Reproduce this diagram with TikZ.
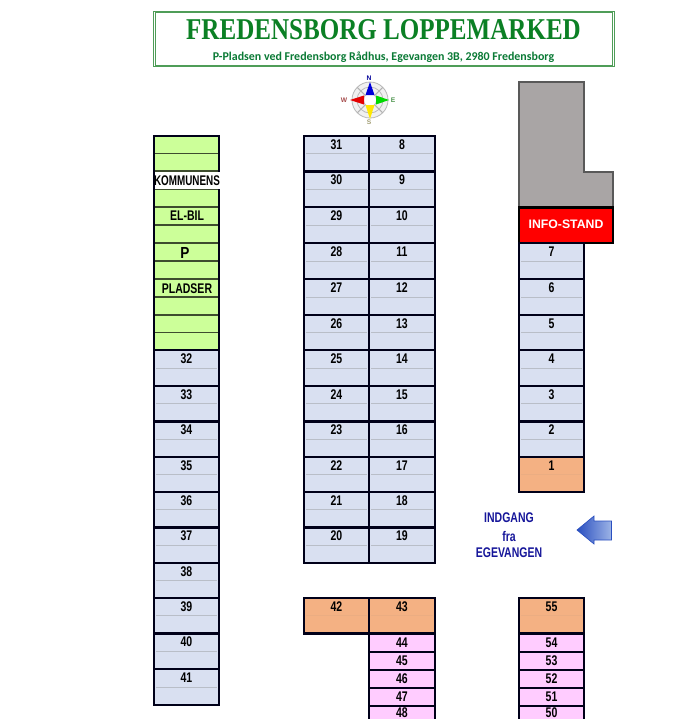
\documentclass[tikz,border=0pt]{standalone}
\usepackage{fontspec}
\usepackage{graphicx}
\setmainfont{Liberation Sans}
\newfontfamily\titlefont{Liberation Serif}
\newfontfamily\subfont{Carlito}
\definecolor{bluecell}{HTML}{D9E0F1}
\definecolor{greencell}{HTML}{CCFF99}
\definecolor{orangecell}{HTML}{F4B183}
\definecolor{pinkcell}{HTML}{FFCCFF}
\definecolor{midline}{HTML}{B9BEC8}
\definecolor{orangeline}{HTML}{EBAD82}
\definecolor{framegreen}{HTML}{4F9D58}
\definecolor{titlegreen}{HTML}{0B8024}
\definecolor{subgreen}{HTML}{0A7A35}
\definecolor{navytext}{HTML}{16169A}
\definecolor{stonegray}{HTML}{A9A5A5}
\definecolor{arrowdark}{HTML}{2A4FC0}
\definecolor{arrowlight}{HTML}{9DB4E6}
\newcommand{\narrowtxt}[1]{\scalebox{.75}[1]{\fontsize{10.5pt}{12pt}\selectfont\bfseries #1}}
\tikzset{
  gridline/.style={draw=black!90!blue,line width=1.6pt},
  thinline/.style={draw=midline,line width=.7pt},
  lab/.style={inner sep=0pt,text=black},
  entry/.style={inner sep=0pt,text=navytext},
  compassring/.style={draw=black!28,line width=.6pt},
  compasslabel/.style={inner sep=0pt,font=\bfseries\fontsize{5pt}{5pt}\selectfont},
}
% #1 x left, #2 x right, #3 y top, #4 y bottom, #5 fill, #6 label, #7 name
\newcommand{\tallcell}[7]{%
  \fill[#5] (#1,#3) rectangle (#2,#4);
  \draw[thinline] (#1+2,{(#3+#4)/2}) -- (#2-2,{(#3+#4)/2});
  \draw[gridline] (#1,#3) rectangle (#2,#4);
  \node[lab] (#7) at ({(#1+#2)/2},#3+8.5) {\narrowtxt{#6}};
}
\newcommand{\orangecellbox}[7]{%
  \fill[#5] (#1,#3) rectangle (#2,#4);
  \draw[orangeline,line width=.7pt] (#1+2,{(#3+#4)/2}) -- (#2-2,{(#3+#4)/2});
  \draw[gridline] (#1,#3) rectangle (#2,#4);
  \node[lab] (#7) at ({(#1+#2)/2},#3+8.5) {\narrowtxt{#6}};
}
\newcommand{\shortcell}[7]{%
  \fill[#5] (#1,#3) rectangle (#2,#4);
  \draw[gridline] (#1,#3) rectangle (#2,#4);
  \node[lab] (#7) at ({(#1+#2)/2},{(#3+#4)/2}) {\narrowtxt{#6}};
}
\begin{document}
\begin{tikzpicture}[x=.75pt,y=-.75pt]
\useasboundingbox (0,0) rectangle (680,719);
\begin{scope}
\clip (0,0) rectangle (680,719);
\fill[white] (0,0) rectangle (680,719);
% title frame
\draw[framegreen,line width=.75pt] (153.5,11.5) rectangle (614,66.5);
\draw[framegreen,line width=.5pt] (155.5,12.5) rectangle (612.5,65);
\node[inner sep=0pt,text=titlegreen] (title) at (383.5,29.5) {\resizebox{296pt}{15pt}{\titlefont\bfseries FREDENSBORG LOPPEMARKED}};
\node[inner sep=0pt,text=subgreen] (subtitle) at (383.5,57.5) {\resizebox{256pt}{!}{\subfont\bfseries P-Pladsen ved Fredensborg Rådhus, Egevangen 3B, 2980 Fredensborg}};
% compass
\begin{scope}[shift={(370,100)}]
  \draw[compassring,fill=black!6] (0,0) circle (18);
  \draw[compassring] (0,0) circle (13);
  \foreach \a in {45,135,225,315}
    \draw[black!30,line width=.8pt] (0,0) -- (\a:18);
  \fill[white] (0,0) circle (6.5);
  \draw[black!30,line width=.4pt] (0,0) circle (6.5);
  \fill[blue!85!black] (-4.5,-5) -- (0,-18) -- (4.5,-5) -- cycle;
  \fill[red!90!black] (-6,-4.5) -- (-20,0) -- (-6,4.5) -- cycle;
  \fill[green!85!black] (6,-4.5) -- (19,0) -- (6,4.5) -- cycle;
  \fill[yellow!90!orange] (-4.5,5) -- (0,19) -- (4.5,5) -- cycle;
  \node[compasslabel,text=blue!60!black] (compassN) at (-1,-22) {N};
  \node[compasslabel,text=red!50!black!70] (compassW) at (-26,0) {W};
  \node[compasslabel,text=green!40!black!70] (compassE) at (23,0) {E};
  \node[compasslabel,text=yellow!40!black!70] (compassS) at (-1,22) {S};
\end{scope}
% left column, green part
\fill[greencell] (154,136) rectangle (219,350);
\foreach \yy in {153.5,171,189,207,225,243,261,279,297,315,332.5}
  \draw[black!70!greencell,line width=1pt] (154,\yy) -- (219,\yy);
\draw[gridline] (154,350) |- (219,136) -- (219,350) -- cycle;
\fill[white] (155,172) rectangle (221,188.5);
\node[lab] (kommunens) at (187,181) {\scalebox{.94}[1]{\narrowtxt{KOMMUNENS}}};
\node[lab] (elbil) at (187,216) {\narrowtxt{EL-BIL}};
\node[lab] (parking) at (185,253) {\scalebox{.85}[1]{\fontsize{12pt}{13pt}\selectfont\bfseries P}};
\node[lab] (pladser) at (187,289) {\narrowtxt{PLADSER}};
% left column, blue part
\tallcell{154}{219}{350}{386}{bluecell}{32}{c32}
\tallcell{154}{219}{386}{421.5}{bluecell}{33}{c33}
\tallcell{154}{219}{421.5}{457}{bluecell}{34}{c34}
\tallcell{154}{219}{457}{492}{bluecell}{35}{c35}
\tallcell{154}{219}{492}{527.5}{bluecell}{36}{c36}
\tallcell{154}{219}{527.5}{563}{bluecell}{37}{c37}
\tallcell{154}{219}{563}{598}{bluecell}{38}{c38}
\tallcell{154}{219}{598}{633.5}{bluecell}{39}{c39}
\tallcell{154}{219}{633.5}{669}{bluecell}{40}{c40}
\tallcell{154}{219}{669}{705}{bluecell}{41}{c41}
% middle block
\tallcell{304}{369}{136}{171.5}{bluecell}{31}{c31}
\tallcell{369}{435}{136}{171.5}{bluecell}{8}{c8}
\tallcell{304}{369}{171.5}{207}{bluecell}{30}{c30}
\tallcell{369}{435}{171.5}{207}{bluecell}{9}{c9}
\tallcell{304}{369}{207}{243}{bluecell}{29}{c29}
\tallcell{369}{435}{207}{243}{bluecell}{10}{c10}
\tallcell{304}{369}{243}{279}{bluecell}{28}{c28}
\tallcell{369}{435}{243}{279}{bluecell}{11}{c11}
\tallcell{304}{369}{279}{315}{bluecell}{27}{c27}
\tallcell{369}{435}{279}{315}{bluecell}{12}{c12}
\tallcell{304}{369}{315}{350}{bluecell}{26}{c26}
\tallcell{369}{435}{315}{350}{bluecell}{13}{c13}
\tallcell{304}{369}{350}{386}{bluecell}{25}{c25}
\tallcell{369}{435}{350}{386}{bluecell}{14}{c14}
\tallcell{304}{369}{386}{421.5}{bluecell}{24}{c24}
\tallcell{369}{435}{386}{421.5}{bluecell}{15}{c15}
\tallcell{304}{369}{421.5}{457}{bluecell}{23}{c23}
\tallcell{369}{435}{421.5}{457}{bluecell}{16}{c16}
\tallcell{304}{369}{457}{492}{bluecell}{22}{c22}
\tallcell{369}{435}{457}{492}{bluecell}{17}{c17}
\tallcell{304}{369}{492}{527.5}{bluecell}{21}{c21}
\tallcell{369}{435}{492}{527.5}{bluecell}{18}{c18}
\tallcell{304}{369}{527.5}{563}{bluecell}{20}{c20}
\tallcell{369}{435}{527.5}{563}{bluecell}{19}{c19}
% lower middle block
\orangecellbox{304}{369}{598}{633.5}{orangecell}{42}{c42}
\orangecellbox{369}{435}{598}{633.5}{orangecell}{43}{c43}
\shortcell{369}{435}{633.5}{652}{pinkcell}{44}{c44}
\shortcell{369}{435}{652}{670}{pinkcell}{45}{c45}
\shortcell{369}{435}{670}{688}{pinkcell}{46}{c46}
\shortcell{369}{435}{688}{706}{pinkcell}{47}{c47}
\shortcell{369}{435}{706}{720}{pinkcell}{48}{c48}
% grey building and info stand
\draw[black!65,fill=stonegray,line width=1.5pt] (519,82) -- (584,82) -- (584,171.5) -- (613,171.5) -- (613,207) -- (519,207) -- cycle;
\draw[black,fill=red,line width=2pt] (519,207.5) rectangle (613,243);
\node[inner sep=0pt,text=white] (infostand) at (566,224.5) {\fontsize{9.2pt}{10pt}\selectfont\bfseries INFO-STAND};
% right column
\tallcell{519}{584}{243}{279}{bluecell}{7}{c7}
\tallcell{519}{584}{279}{315}{bluecell}{6}{c6}
\tallcell{519}{584}{315}{350}{bluecell}{5}{c5}
\tallcell{519}{584}{350}{386}{bluecell}{4}{c4}
\tallcell{519}{584}{386}{421.5}{bluecell}{3}{c3}
\tallcell{519}{584}{421.5}{457}{bluecell}{2}{c2}
\orangecellbox{519}{584}{457}{492}{orangecell}{1}{c1}
\orangecellbox{519}{584}{598}{633.5}{orangecell}{55}{c55}
\shortcell{519}{584}{633.5}{652}{pinkcell}{54}{c54}
\shortcell{519}{584}{652}{670}{pinkcell}{53}{c53}
\shortcell{519}{584}{670}{688}{pinkcell}{52}{c52}
\shortcell{519}{584}{688}{706}{pinkcell}{51}{c51}
\shortcell{519}{584}{706}{720}{pinkcell}{50}{c50}
% entrance
\node[entry] (indgang) at (509,518) {\narrowtxt{INDGANG}};
\node[entry] (fra) at (509,536) {\narrowtxt{fra}};
\node[entry] (egevangen) at (509,553) {\narrowtxt{EGEVANGEN}};
\path[left color=arrowdark,right color=arrowlight,draw=arrowdark,line width=.5pt]
  (577,530) -- (594,516) -- (594,521) -- (611.5,521) -- (611.5,540) -- (594,540) -- (594,544) -- cycle;
\end{scope}
\end{tikzpicture}
\end{document}
